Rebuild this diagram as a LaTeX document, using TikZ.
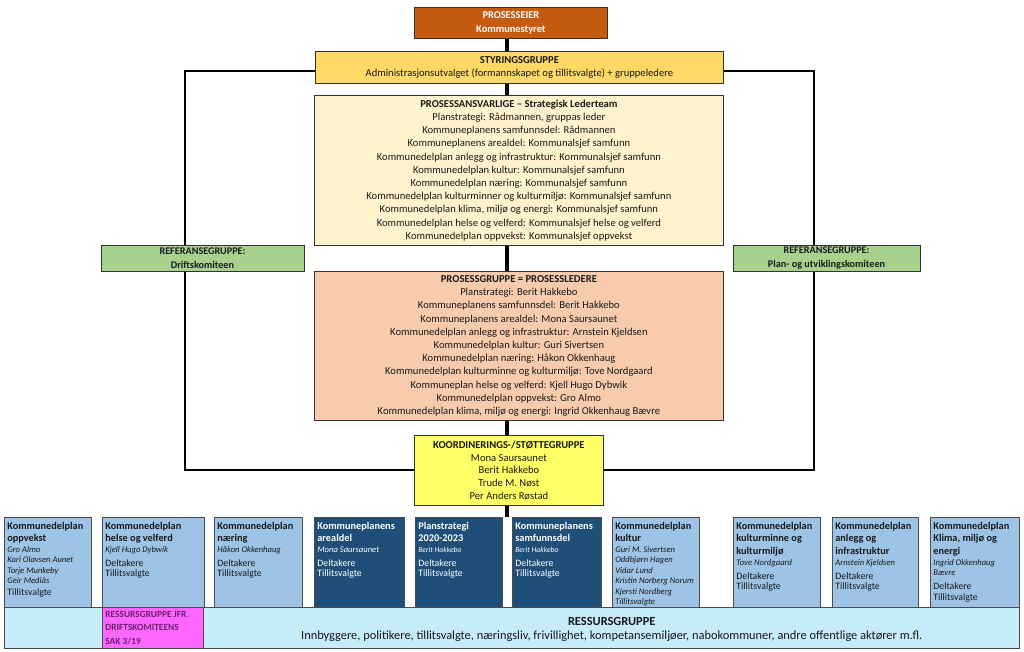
\documentclass[tikz,border=0pt]{standalone}
\usepackage{fontspec}
\setmainfont{Carlito}
\usepackage{xcolor}
\usepackage{tikz}
\usetikzlibrary{positioning, calc}
\definecolor{eierorange}{HTML}{C55A11}
\definecolor{styrgul}{HTML}{FFD966}
\definecolor{ansvgul}{HTML}{FFF2CC}
\definecolor{prosfersken}{HTML}{F8CBAD}
\definecolor{koordgul}{HTML}{FFFF66}
\definecolor{refgronn}{HTML}{A9D18E}
\definecolor{planlys}{HTML}{9DC3E6}
\definecolor{planmork}{HTML}{1F4E79}
\definecolor{ressurscyan}{HTML}{C6EBF9}
\definecolor{jfrmagenta}{HTML}{FF66FF}
\definecolor{jfrlilla}{HTML}{6A1F6E}
\newcommand\plantittel[1]{{\bfseries\fontsize{10.3}{12.6}\selectfont #1\par}}
\newcommand\plannavn[1]{{\itshape\fontsize{8.6}{10.5}\selectfont #1\par}}
\newcommand\plandel[1]{{\fontsize{9.8}{10.5}\selectfont\vspace{3.5pt}#1\par}}

\begin{document}
\begin{tikzpicture}[x=1pt, y=-1pt, font=\fontsize{10.6}{13.2}\selectfont,
    box/.style={draw=black!80, line width=0.8pt, align=center, inner sep=1pt,
      anchor=north west, text=black!90},
    plan/.style={draw=black!70, line width=0.7pt, anchor=north west, align=flush left,
      inner sep=3pt, text height=9pt, text depth=75pt, text width=#1,
      fill=planlys, text=black!90},
    mplan/.style={plan=#1, fill=planmork, text=white},
    frame/.style={draw=black, line width=1.5pt},
    spine/.style={draw=black, line width=3.6pt}]
  \useasboundingbox (0,0) rectangle (1024,652);
  \fill[white] (0,0) rectangle (1024,652);

  % ledelse i midten
  \node[box, fill=eierorange, text=white, font=\bfseries\fontsize{10.4}{14}\selectfont,
    minimum width=193pt, minimum height=31pt] (eier) at (414,7) {PROSESSEIER\\Kommunestyret};
  \node[box, fill=styrgul, font=\fontsize{10.6}{12.5}\selectfont,
    minimum width=408pt, minimum height=32pt] (styr) at (315,51)
    {\textbf{STYRINGSGRUPPE}\\Administrasjonsutvalget (formannskapet og tillitsvalgte) + gruppeledere};
  \node[box, fill=ansvgul, minimum width=409pt, minimum height=150pt] (ansv) at (314,95)
    {\textbf{PROSESSANSVARLIGE – Strategisk Lederteam}\\
     Planstrategi: Rådmannen, gruppas leder\\
     Kommuneplanens samfunnsdel: Rådmannen\\
     Kommuneplanens arealdel: Kommunalsjef samfunn\\
     Kommunedelplan anlegg og infrastruktur: Kommunalsjef samfunn\\
     Kommunedelplan kultur: Kommunalsjef samfunn\\
     Kommunedelplan næring: Kommunalsjef samfunn\\
     Kommunedelplan kulturminner og kulturmiljø: Kommunalsjef samfunn\\
     Kommunedelplan klima, miljø og energi: Kommunalsjef samfunn\\
     Kommunedelplan helse og velferd: Kommunalsjef helse og velferd\\
     Kommunedelplan oppvekst: Kommunalsjef oppvekst};
  \node[box, fill=prosfersken, minimum width=409pt, minimum height=149pt] (pgr) at (314,271)
    {\textbf{PROSESSGRUPPE = PROSESSLEDERE}\\
     Planstrategi: Berit Hakkebo\\
     Kommuneplanens samfunnsdel: Berit Hakkebo\\
     Kommuneplanens arealdel: Mona Saursaunet\\
     Kommunedelplan anlegg og infrastruktur: Arnstein Kjeldsen\\
     Kommunedelplan kultur: Guri Sivertsen\\
     Kommunedelplan næring: Håkon Okkenhaug\\
     Kommunedelplan kulturminne og kulturmiljø: Tove Nordgaard\\
     Kommuneplan helse og velferd: Kjell Hugo Dybwik\\
     Kommunedelplan oppvekst: Gro Almo\\
     Kommunedelplan klima, miljø og energi: Ingrid Okkenhaug Bævre};
  \node[box, fill=koordgul, font=\fontsize{10.6}{12.8}\selectfont,
    minimum width=189pt, minimum height=70pt] (koord) at (414,435)
    {\textbf{KOORDINERINGS-/STØTTEGRUPPE}\\Mona Saursaunet\\Berit Hakkebo\\Trude M. Nøst\\Per Anders Røstad};

  % planene
  \node[plan=81pt] (oppvekst) at (4,517)
    {\plantittel{Kommunedelplan\\oppvekst}\plannavn{Gro Almo\\Kari Olavsen Aunet\\Torje Munkeby\\Geir Mediås}%
     {\fontsize{9.8}{11.5}\selectfont Tillitsvalgte\par}};
  \node[plan=96pt] (helse) at (102,517)
    {\plantittel{Kommunedelplan\\helse og velferd}\plannavn{Kjell Hugo Dybwik}\plandel{Deltakere\\Tillitsvalgte}};
  \node[plan=82pt] (naering) at (214,517)
    {\plantittel{Kommunedelplan\\næring}\plannavn{Håkon Okkenhaug}\plandel{Deltakere\\Tillitsvalgte}};
  \node[mplan=84pt] (areal) at (314,517)
    {\plantittel{Kommuneplanens\\arealdel}\plannavn{Mona Saursaunet}\plandel{Deltakere\\Tillitsvalgte}};
  \node[mplan=81pt] (strategi) at (415,517)
    {\plantittel{Planstrategi\\2020-2023}{\itshape\fontsize{7.6}{10.5}\selectfont Berit Hakkebo\par}\plandel{Deltakere\\Tillitsvalgte}};
  \node[mplan=83pt] (samfunn) at (512,517)
    {\plantittel{Kommuneplanens\\samfunnsdel}{\itshape\fontsize{7.6}{10.5}\selectfont Berit Hakkebo\par}\plandel{Deltakere\\Tillitsvalgte}};
  \node[plan=81pt] (kultur) at (612,517)
    {\plantittel{Kommunedelplan\\kultur}\plannavn{Guri M. Sivertsen\\Oddbjørn Hagen\\Vidar Lund\\Kristin Norberg Norum\\Kjersti Nordberg\\Tillitsvalgte}};
  \node[plan=81pt] (kulturminne) at (733,517)
    {\plantittel{Kommunedelplan\\kulturminne og\\kulturmiljø}\plannavn{Tove Nordgaard}\plandel{Deltakere\\Tillitsvalgte}};
  \node[plan=80pt] (anlegg) at (832,517)
    {\plantittel{Kommunedelplan\\anlegg og\\infrastruktur}\plannavn{Arnstein Kjeldsen}\plandel{Deltakere\\Tillitsvalgte}};
  \node[plan=83pt] (klima) at (930,517)
    {\plantittel{Kommunedelplan\\Klima, miljø og\\energi}\plannavn{Ingrid Okkenhaug\\Bævre}\plandel{Deltakere\\Tillitsvalgte}};

  % ressursgruppe
  \node[draw=black!70, line width=0.7pt, fill=ressurscyan, anchor=north west,
    minimum width=1015pt, minimum height=41pt] (ressurs) at (4,607) {};
  \node[draw=black!70, line width=0.7pt, fill=jfrmagenta, anchor=north west, align=flush left,
    minimum width=101pt, minimum height=41pt, text width=95pt, inner xsep=3pt, inner ysep=2pt,
    text=jfrlilla, font=\bfseries\fontsize{9.4}{13.6}\selectfont] (jfr) at (102,607)
    {RESSURSGRUPPE JFR.\\DRIFTSKOMITEENS\\SAK 3/19};
  \node[align=center, text=black!90, font=\fontsize{12.4}{13.5}\selectfont, yshift=-1.5pt]
    (ressurstekst) at ($(jfr.east)!0.5!(ressurs.east)$)
    {\textbf{RESSURSGRUPPE}\\Innbyggere, politikere, tillitsvalgte, næringsliv, frivillighet, kompetansemiljøer, nabokommuner, andre offentlige aktører m.fl.};

  % rammen og ryggen
  \coordinate (ryggx) at (507,0);
  \coordinate (rammeVO) at (185,71);
  \coordinate (rammeHO) at (814,71);
  \coordinate (rammeVN) at (185,470);
  \coordinate (rammeHN) at (814,470);
  \draw[frame] (styr.west |- rammeVO) -- (rammeVO) -- (rammeVN) -- (koord.west |- rammeVN);
  \draw[frame] (styr.east |- rammeHO) -- (rammeHO) -- (rammeHN) -- (koord.east |- rammeHN);
  \draw[spine] (eier.south -| ryggx) -- (styr.north -| ryggx);
  \draw[spine] (styr.south -| ryggx) -- (ansv.north -| ryggx);
  \draw[spine] (ansv.south -| ryggx) -- (pgr.north -| ryggx);
  \draw[spine] (pgr.south -| ryggx) -- (koord.north -| ryggx);
  \draw[spine] (koord.south -| ryggx) -- (ryggx |- strategi.north);

  % referansegrupper
  \node[box, anchor=center, fill=refgronn, font=\bfseries\fontsize{10.2}{13.5}\selectfont,
    minimum width=203pt, minimum height=26pt] (refdrift) at (202.5,258)
    {REFERANSEGRUPPE:\\Driftskomiteen};
  \node[box, anchor=center, fill=refgronn, font=\bfseries\fontsize{10.2}{13.5}\selectfont,
    minimum width=187pt, minimum height=26pt] (refplan) at (826.5,258)
    {REFERANSEGRUPPE:\\Plan- og utviklingskomiteen};
\end{tikzpicture}
\end{document}
